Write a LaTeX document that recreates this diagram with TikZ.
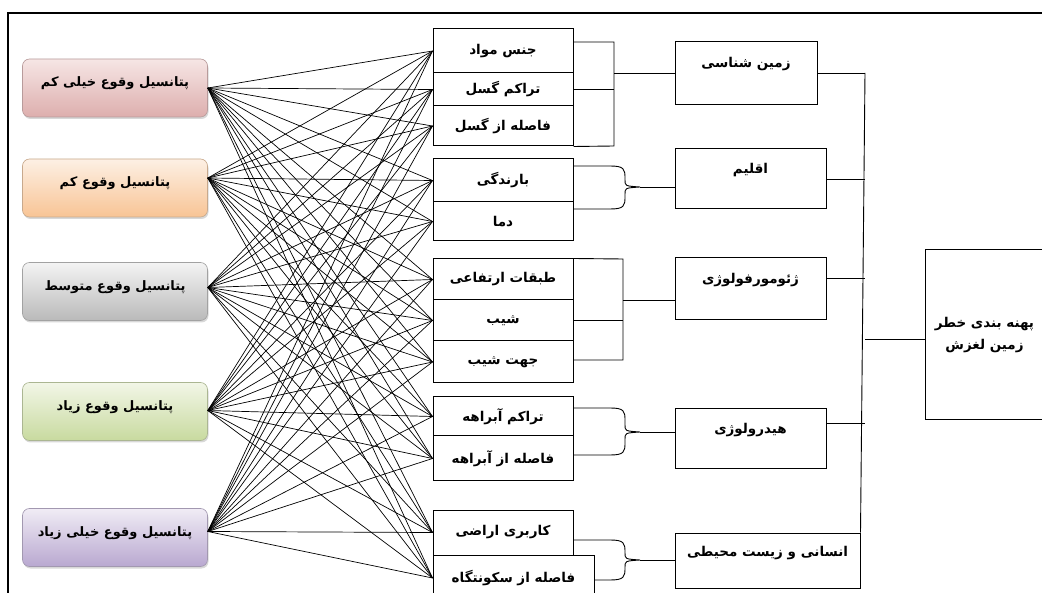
\documentclass[tikz,border=0pt]{standalone}
\usepackage{fontspec}
\newfontfamily\arabicfont[Script=Arabic]{DejaVu Sans}
\TeXXeTstate=1
\usetikzlibrary{shadows}

\definecolor{redT}{HTML}{F6E6E5}
\definecolor{redB}{HTML}{DDAEAD}
\definecolor{orgT}{HTML}{FDF0E4}
\definecolor{orgB}{HTML}{F8C495}
\definecolor{gryT}{HTML}{F4F4F4}
\definecolor{gryB}{HTML}{B9B9B9}
\definecolor{grnT}{HTML}{F2F6E7}
\definecolor{grnB}{HTML}{C8DA9F}
\definecolor{vioT}{HTML}{F0ECF5}
\definecolor{vioB}{HTML}{B9A8D0}

\newcommand{\fa}[1]{\arabicfont\bfseries\beginR #1\endR}
%% curly bracket: top y, tip y, bottom y, x of lower arm
\newcommand{\brc}[4]{\draw[line width=.9pt] (573,#1) -- (610,#1)
  .. controls (624,#1) and (625,{#1+3}) .. (625,{#1+12}) -- (625,{#2-7})
  .. controls (625,{#2-1}) .. (640,#2) .. controls (625,{#2+1}) .. (625,{#2+7})
  -- (625,{#3-12}) .. controls (625,{#3-3}) and (624,#3) .. (610,#3) -- (#4,#3);}

\begin{document}
\begin{tikzpicture}[x=1pt,y=-1pt,
    font=\fontsize{13.5}{16}\selectfont,
    lbox/.style={draw=#1!60!gray,line width=.6pt,rounded corners=7pt,
      minimum width=185,minimum height=58,text height=10pt,text depth=12pt,
      font=\fontsize{13}{16}\selectfont,
      drop shadow={shadow xshift=1pt,shadow yshift=-2pt,opacity=.3}},
    cell/.style={draw,line width=1pt,minimum width=140,inner sep=2pt},
    cat/.style={draw,line width=1pt,text height=10pt,text depth=21pt}]
  \clip (0,0) rectangle (1042,593);
  \fill[white] (0,0) rectangle (1042,593);
  \draw[line width=1.3pt] (8,593) -- (8,13) -- (1042,13);%

  %% left column
  \foreach \i/\y/\d/\ct/\cb/\t in {1/88/0/redT/redB/{پتانسیل وقوع خیلی کم},
    2/188/10/orgT/orgB/{پتانسیل وقوع کم},
    3/291.5/4/gryT/gryB/{پتانسیل وقوع متوسط},
    4/411.5/1/grnT/grnB/{پتانسیل وقوع زیاد},
    5/537.5/6/vioT/vioB/{پتانسیل وقوع خیلی زیاد}}{
    \node[lbox=\cb,top color=\ct,bottom color=\cb] (p\i) at (115,\y) {\fa{\t}};
    \coordinate (s\i) at ([yshift=\d pt]p\i.east);
  }

  %% middle column
  \foreach \j/\y/\h/\t in {1/51/44/{جنس مواد},2/89.5/33/{تراکم گسل},
    3/126/40/{فاصله از گسل},4/180.5/43/{بارندگی},5/221.5/39/{دما},
    6/279.5/41/{طبقات ارتفاعی},7/320.5/41/{شیب},8/362/42/{جهت شیب},
    9/416.5/39/{تراکم آبراهه},10/458.5/45/{فاصله از آبراهه},
    11/532.5/45/{کاربری اراضی}}
    \node[cell,minimum height=\h] (m\j) at (503,\y) {\fa{\t}};
  \node[cell,minimum width=161,minimum height=46] (m12) at (513.5,578)
    {\fa{فاصله از سکونتگاه}};

  %% all links
  \foreach \i in {1,...,5}
    \foreach \j in {1,...,12}
      \draw[line width=.7pt] (s\i) -- (m\j.west);

  %% factor boxes
  \node[cat,minimum width=142,minimum height=63] (geo) at (746,73.5) {\fa{زمین شناسی}};
  \node[cat,minimum width=151,minimum height=60] (clim) at (750.5,179) {\fa{اقلیم}};
  \node[cat,minimum width=151,minimum height=62] (geom) at (750.5,289) {\fa{ژئومورفولوژی}};
  \node[cat,minimum width=151,minimum height=60] (hyd) at (750.5,439) {\fa{هیدرولوژی}};
  \node[cat,minimum width=185,minimum height=55,text depth=18pt] (hum) at (767.5,560.5) {\fa{انسانی و زیست محیطی}};
  \node[draw,line width=1pt,minimum width=119,minimum height=170,align=center] (haz)
    at (984.5,335) {\fa{پهنه بندی خطر}\\[6pt]\fa{زمین لغزش}};

  %% brackets
  \draw[line width=.9pt] (m1.east |- 0,42) -- (614,42) -- (614,146) -- (m3.south east);
  \draw[line width=.9pt] (m2.east) -- (m2.east -| 614,0);
  \coordinate (g1) at (614,73);
  \draw[line width=.9pt] (g1) -- (g1 -| geo.west);
  \brc{166}{187}{209}{573}
  \coordinate (g2) at (640,187);
  \draw[line width=.9pt] (g2) -- (g2 -| clim.west);
  \draw[line width=.9pt] (m6.north east) -- (623,259) -- (623,360) -- (m8.east |- 0,360);
  \draw[line width=.9pt] (m7.east) -- (m7.east -| 623,0);
  \coordinate (g3) at (623,300);
  \draw[line width=.9pt] (g3) -- (g3 -| geom.west);
  \brc{408}{432}{455}{573}
  \coordinate (g4) at (640,432);
  \draw[line width=.9pt] (g4) -- (g4 -| hyd.west);
  \brc{540}{560}{580}{594}
  \coordinate (g5) at (640,560);
  \draw[line width=.9pt] (g5) -- (g5 -| hum.west);

  %% spine
  \coordinate (sp) at (865,73);
  \draw[line width=.9pt] (sp) -- (hum.north east);
  \draw[line width=.9pt] (geo.east) -- (geo.east -| sp);
  \draw[line width=.9pt] (clim.east) -- (clim.east -| sp);
  \draw[line width=.9pt] ([yshift=11pt]geom.east) -- ([yshift=11pt]geom.east -| sp);
  \draw[line width=.9pt] ([yshift=16pt]hyd.east) -- ([yshift=16pt]hyd.east -| sp);
  \draw[line width=.9pt] ([yshift=-4pt]haz.west) -- ([yshift=-4pt]haz.west -| sp);
\end{tikzpicture}
\end{document}
